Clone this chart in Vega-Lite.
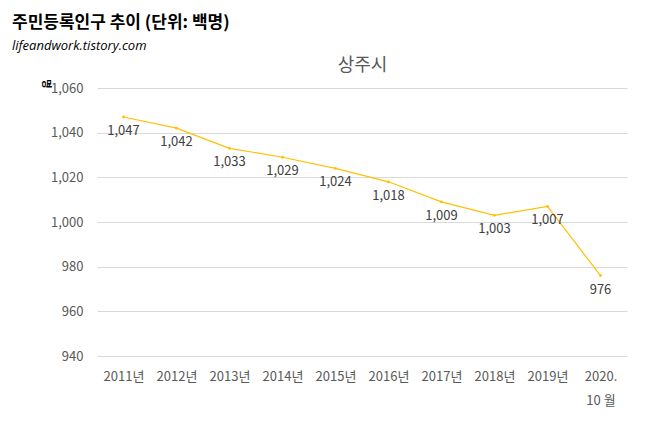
{
  "$schema": "https://vega.github.io/schema/vega-lite/v6.json",
  "width": 530,
  "height": 268,
  "padding": {"left": 12, "top": 14, "right": 12, "bottom": 8},
  "background": "white",
  "title": {
    "text": "주민등록인구 추이 (단위: 백명)",
    "subtitle": "lifeandwork.tistory.com",
    "anchor": "start",
    "frame": "group",
    "offset": 2,
    "dx": -85,
    "font": "Noto Sans CJK KR",
    "fontSize": 17,
    "fontWeight": "bold",
    "color": "black",
    "subtitleFont": "Open Sans",
    "subtitleFontSize": 13,
    "subtitleFontStyle": "italic",
    "subtitleColor": "black",
    "subtitlePadding": 8
  },
  "config": {
    "view": {"stroke": null},
    "font": "Noto Sans CJK KR"
  },
  "data": {
    "values": [
      {"year": "2011년", "pop": 1047},
      {"year": "2012년", "pop": 1042},
      {"year": "2013년", "pop": 1033},
      {"year": "2014년", "pop": 1029},
      {"year": "2015년", "pop": 1024},
      {"year": "2016년", "pop": 1018},
      {"year": "2017년", "pop": 1009},
      {"year": "2018년", "pop": 1003},
      {"year": "2019년", "pop": 1007},
      {"year": "2020.\n10 월", "pop": 976}
    ]
  },
  "layer": [
    {
      "mark": {"type": "line", "color": "#ffc000", "strokeWidth": 1.2, "point": {"color": "#ffc000", "size": 8}},
      "encoding": {
        "x": {
          "field": "year",
          "type": "ordinal",
          "sort": null,
          "scale": {"paddingOuter": 0.1},
          "axis": {
            "title": null,
            "labelAngle": 0,
            "labelExpr": "split(datum.label, '\\n')",
            "labelFontSize": 13,
            "labelColor": "#595959",
            "labelPadding": 14,
            "labelLineHeight": 24,
            "domain": false,
            "ticks": false
          }
        },
        "y": {
          "field": "pop",
          "type": "quantitative",
          "scale": {"domain": [940, 1060]},
          "axis": {
            "title": "명",
            "titleAngle": 90,
            "titleFontSize": 10,
            "titleAnchor": "end",
            "titlePadding": 10,
            "tickCount": 6,
            "format": ",d",
            "labelFontSize": 13,
            "labelColor": "#595959",
            "labelPadding": 14,
            "domain": false,
            "ticks": false,
            "gridColor": "#d9d9d9"
          }
        }
      }
    },
    {
      "mark": {"type": "text", "dy": 14, "fontSize": 13, "color": "#404040"},
      "encoding": {
        "x": {"field": "year", "type": "ordinal", "sort": null, "axis": null},
        "y": {"field": "pop", "type": "quantitative"},
        "text": {"field": "pop", "type": "quantitative", "format": ","}
      }
    },
    {
      "mark": {"type": "text", "opacity": 0},
      "encoding": {
        "x": {
          "field": "year",
          "type": "ordinal",
          "sort": null,
          "axis": {
            "orient": "top",
            "title": "상주시",
            "titleFontSize": 18,
            "titleFontWeight": "normal",
            "titleColor": "#595959",
            "titlePadding": 14,
            "labelExpr": "''",
            "labelPadding": 0,
            "ticks": false,
            "domain": false,
            "grid": false
          }
        },
        "y": {"field": "pop", "type": "quantitative"},
        "text": {"field": "pop"}
      }
    }
  ],
  "resolve": {"axis": {"x": "independent"}}
}
